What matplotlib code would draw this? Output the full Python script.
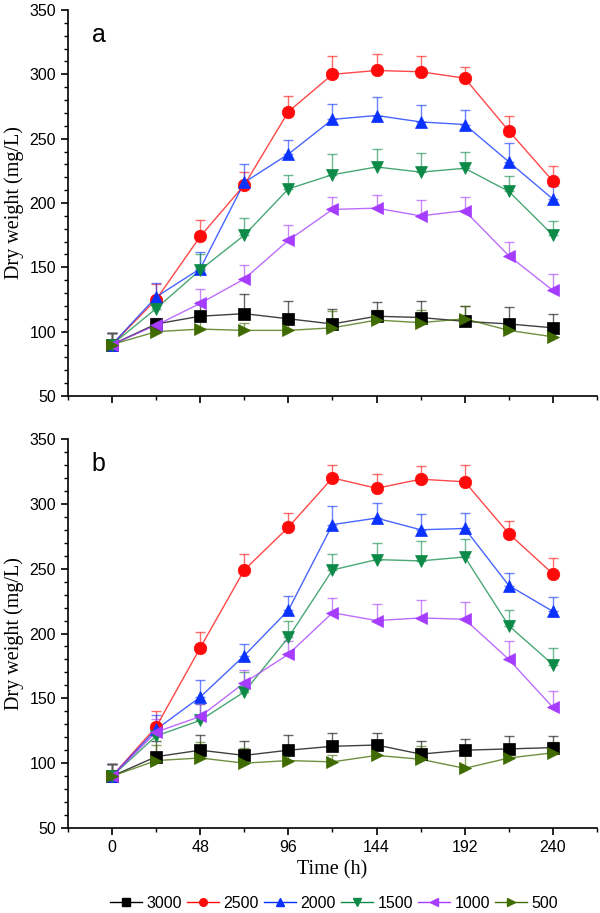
import numpy as np
import matplotlib
matplotlib.use("Agg")
import matplotlib.pyplot as plt
from matplotlib.ticker import MultipleLocator

plt.rcParams['font.family'] = ['Liberation Sans', 'DejaVu Sans']

time_h = [0, 24, 48, 72, 96, 120, 144, 168, 192, 216, 240]
labels = ['3000', '2500', '2000', '1500', '1000', '500']
colors = ['#000000', '#ff0a0a', '#0a32ff', '#0d8a47', '#a53cff', '#3f6b00']
markers = ['s', 'o', '^', 'v', '<', '>']

# panel a: mean dry weight (mg/L)
a_3000 = [90, 106, 112, 114, 110, 106, 112, 111, 108, 106, 103]
a_2500 = [90, 125, 174, 214, 271, 300, 303, 302, 297, 256, 217]
a_2000 = [90, 127, 149, 216, 238, 265, 268, 263, 261, 232, 203]
a_1500 = [90, 118, 148, 175, 211, 222, 228, 224, 227, 209, 175]
a_1000 = [90, 105, 122, 141, 171, 195, 196, 190, 194, 159, 132]
a_500 = [90, 100, 102, 101, 101, 103, 109, 107, 110, 101, 96]

# panel a: upper error
ea_3000 = [9, 3, 11, 15, 14, 12, 11, 13, 12, 13, 11]
ea_2500 = [9, 12, 13, 10, 12, 14, 13, 12, 9, 12, 12]
ea_2000 = [9, 11, 13, 14, 11, 12, 14, 13, 11, 15, 10]
ea_1500 = [9, 8, 12, 13, 11, 16, 14, 15, 13, 12, 11]
ea_1000 = [9, 6, 11, 11, 12, 10, 10, 12, 11, 11, 13]
ea_500 = [9, 5, 6, 6, 6, 13, 8, 10, 10, 6, 6]

# panel b: mean dry weight (mg/L)
b_3000 = [90, 105, 110, 106, 110, 113, 114, 107, 110, 111, 112]
b_2500 = [90, 128, 189, 249, 282, 320, 312, 319, 317, 277, 246]
b_2000 = [90, 126, 151, 183, 218, 284, 289, 280, 281, 237, 217]
b_1500 = [90, 121, 133, 155, 197, 249, 257, 256, 259, 206, 176]
b_1000 = [90, 124, 136, 162, 184, 216, 210, 212, 211, 180, 143]
b_500 = [90, 102, 104, 100, 102, 101, 106, 103, 96, 104, 108]

# panel b: upper error
eb_3000 = [9, 12, 12, 11, 12, 10, 9, 10, 9, 10, 9]
eb_2500 = [9, 12, 12, 12, 11, 10, 11, 10, 13, 10, 12]
eb_2000 = [9, 11, 13, 9, 11, 14, 12, 12, 12, 10, 11]
eb_1500 = [9, 10, 13, 15, 13, 12, 13, 15, 14, 12, 13]
eb_1000 = [9, 10, 10, 10, 10, 11, 13, 14, 13, 14, 13]
eb_500 = [9, 12, 12, 12, 12, 5, 8, 10, 10, 8, 8]

panel_a = [a_3000, a_2500, a_2000, a_1500, a_1000, a_500]
err_a = [ea_3000, ea_2500, ea_2000, ea_1500, ea_1000, ea_500]
panel_b = [b_3000, b_2500, b_2000, b_1500, b_1000, b_500]
err_b = [eb_3000, eb_2500, eb_2000, eb_1500, eb_1000, eb_500]

fig = plt.figure(figsize=(6, 9.13), dpi=100)
W, H = 600, 913
ax_a = fig.add_axes([68 / W, 1 - 396 / H, (597 - 68) / W, (396 - 10) / H])
ax_b = fig.add_axes([68 / W, 1 - 828 / H, (597 - 68) / W, (828 - 439) / H])


def draw(ax, series, errs, letter):
    for vals, err, c, m, lab in zip(series, errs, colors, markers, labels):
        vals = np.array(vals, dtype=float)
        err = np.array(err, dtype=float)
        ax.errorbar(time_h, vals, yerr=[np.zeros_like(err), err], fmt='none',
                    ecolor=c, elinewidth=1.0, capsize=3.5, capthick=1.0,
                    alpha=0.6, zorder=2)
        ax.plot(time_h, vals, '-', color=c, lw=1.0, alpha=0.75, zorder=3)
        ax.plot(time_h, vals, linestyle='none', marker=m, color=c,
                markersize=9, markeredgewidth=0.5, zorder=4, label=lab)
    ax.set_xlim(-24, 264)
    ax.set_ylim(50, 350)
    ax.xaxis.set_major_locator(MultipleLocator(48))
    ax.xaxis.set_minor_locator(MultipleLocator(24))
    ax.yaxis.set_major_locator(MultipleLocator(50))
    ax.yaxis.set_minor_locator(MultipleLocator(10))
    for s in ['top', 'right']:
        ax.spines[s].set_visible(False)
    for s in ['left', 'bottom']:
        ax.spines[s].set_linewidth(1.2)
    ax.tick_params(which='major', direction='out', length=5, width=1.2,
                   labelsize=11.5)
    ax.tick_params(which='minor', direction='out', length=3, width=1.0)
    ax.set_ylabel('Dry weight (mg/L)', family='Liberation Serif',
                  fontsize=14.5, labelpad=4)
    ax.text(0.045, 0.935, letter, transform=ax.transAxes, fontsize=18,
            ha='left', va='center')


draw(ax_a, panel_a, err_a, 'a')
draw(ax_b, panel_b, err_b, 'b')
ax_a.tick_params(axis='x', labelbottom=False)
ax_b.set_xlabel('Time (h)', family='Liberation Serif', fontsize=14.5, labelpad=4)

handles = []
for c, m, lab in zip(colors, markers, labels):
    h, = ax_b.plot([], [], '-', color=c, lw=1.0, marker=m, markersize=5.5)
    handles.append(h)
fig.legend(handles, labels, loc='center', bbox_to_anchor=(334 / W, 1 - 903 / H),
           ncol=6, frameon=False, fontsize=11.5, handlelength=2.0,
           handletextpad=0.3, columnspacing=0.3, borderpad=0)

fig.savefig('out.png', dpi=100)
